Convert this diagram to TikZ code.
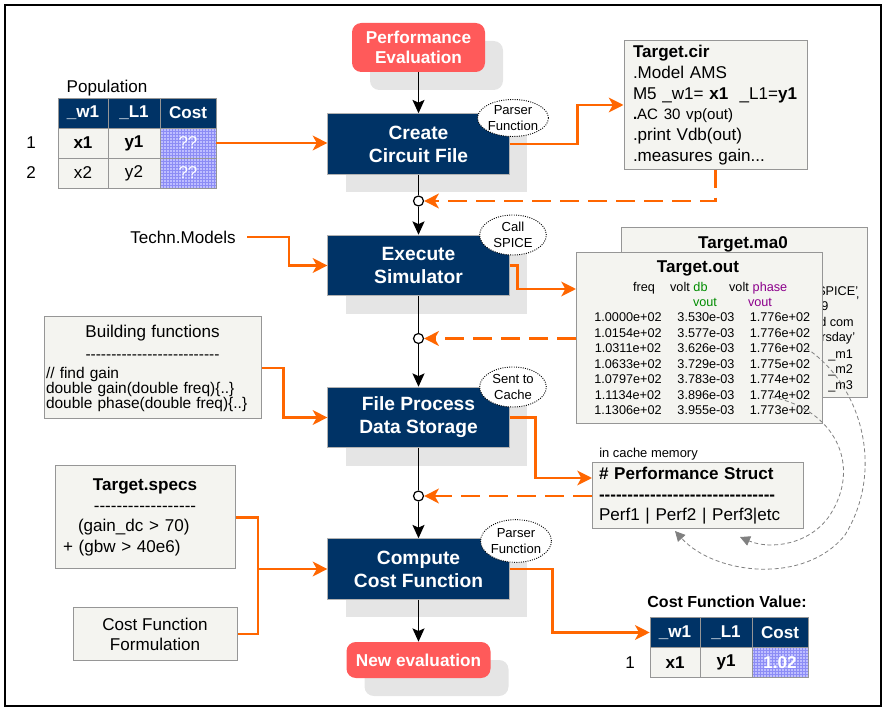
\documentclass[tikz,border=0pt]{standalone}
\usepackage{fontspec}
\setmainfont{Liberation Sans}
\usetikzlibrary{arrows.meta,shapes.geometric,shadows}

\definecolor{navy}{RGB}{0,51,102}
\definecolor{alarm}{RGB}{255,90,90}
\definecolor{flame}{RGB}{255,102,0}
\definecolor{notefill}{RGB}{244,244,240}
\definecolor{notedraw}{RGB}{150,150,150}
\definecolor{shade}{RGB}{229,229,229}
\definecolor{lav}{RGB}{190,190,255}
\definecolor{lavgrid}{RGB}{140,140,245}
\definecolor{dbgreen}{RGB}{0,140,0}
\definecolor{phpurple}{RGB}{140,0,140}

\newcommand\fsz[2]{\fontsize{#1}{#2}\selectfont}
\newcommand\dashrow[1]{\foreach \k in {1,...,#1}{-\kern0pt}}

\begin{document}
\begin{tikzpicture}[
			x=0.75pt, y=-0.75pt
			,boxshadow/.style={drop shadow={shadow xshift=13.5pt, shadow yshift=-13.5pt, fill=shade, opacity=1}}
			,mainbox/.style={rectangle, fill=navy, draw=gray!60, line width=0.6pt, text=white, font=\bfseries\fsz{14.4}{17.3}, align=center, minimum width=136pt, minimum height=45.5pt, boxshadow}
			,redbox/.style={rectangle, rounded corners=7pt, fill=alarm, text=white, font=\bfseries\fsz{12.9}{15.5}, align=center, boxshadow}
			,tag/.style={ellipse, draw, densely dotted, line width=0.7pt, fill=white, font=\fsz{9.8}{12}, align=center, inner sep=0pt}
			,note/.style={rectangle, draw=notedraw, fill=notefill, line width=0.75pt}
			,hd/.style={rectangle, draw=notedraw, fill=navy, text=white, font=\bfseries\fsz{12.8}{15}, minimum height=22.5pt, inner sep=0pt}
			,bd/.style={rectangle, draw=notedraw, fill=notefill, font=\fsz{12.8}{15}, minimum height=22.5pt, inner sep=0pt}
			,bdb/.style={bd, font=\bfseries\fsz{12.8}{15}}
			,cc/.style={rectangle, draw=notedraw, fill=lav, text=white, font=\fsz{12.8}{15}, minimum height=22.5pt, inner sep=0pt,
				path picture={\draw[lavgrid, line width=0.35pt, step=2.25pt] (path picture bounding box.south west) grid (path picture bounding box.north east);}}
			,junc/.style={circle, draw, fill=white, line width=0.9pt, inner sep=0pt, minimum size=7.5pt}
			,link/.style={line width=1.1pt}
			,arr/.style={link, -{Stealth[length=10pt, width=9pt, inset=2pt]}}
			,wire/.style={flame, line width=1.8pt}
			,feed/.style={wire, -{Stealth[length=11pt, width=11pt, inset=3pt]}}
			,backflow/.style={flame, line width=2pt, dash pattern=on 14pt off 7pt, -{Stealth[length=11pt, width=11pt, inset=3pt]}}
			,loopback/.style={gray, line width=0.6pt, dash pattern=on 3pt off 2pt, -{Triangle[length=7.5pt, width=7.5pt]}}
			,txt/.style={font=\fsz{12.8}{15}, inner sep=0pt}
			,small/.style={font=\fsz{9.5}{11.5}, inner sep=0pt, anchor=mid}
		]
	\useasboundingbox (0,0) rectangle (883,709);
	\draw[line width=1.1pt] (5,5) rectangle (881,706);

	% main flow
	\node [redbox, minimum width=99.75pt, minimum height=36.75pt] (pe) at (418.5,47.5) {Performance\\Evaluation};
	\node [mainbox] (create) at (418.5,144) {Create\\Circuit File};
	\node [mainbox] (exec) at (418.5,265.5) {Execute\\Simulator};
	\node [mainbox] (fproc) at (418.5,417.5) {File Process\\Data Storage};
	\node [mainbox] (cost) at (418.5,569) {Compute\\Cost Function};
	\node [redbox, minimum width=108pt, minimum height=27pt] (newev) at (418.5,660) {New evaluation};

	\node [junc] (j1) at (418.5,201) {};
	\node [junc] (j2) at (418.5,338.5) {};
	\node [junc] (j3) at (418.5,496) {};

	\node [tag, minimum width=49.5pt, minimum height=27.75pt] (parse1) at (513,118) {Parser\\Function};
	\node [tag, minimum width=50pt, minimum height=30pt] (spice) at (513,235) {Call\\SPICE};
	\node [tag, minimum width=50pt, minimum height=30pt] (cache) at (513,387) {Sent to\\Cache};
	\node [tag, minimum width=49.5pt, minimum height=32pt] (parse2) at (516,541) {Parser\\Function};

	% population table
	\node [txt] (poplab) at (107,88) {Population};
	\node [hd, minimum width=37.5pt] (pw) at (83,113) {\_w1};
	\node [hd, minimum width=39pt] (pl) at (134,113) {\_L1};
	\node [hd, minimum width=42pt] (pc) at (188,113) {Cost};
	\node [bdb, minimum width=37.5pt] (px1) at (83,143) {x1};
	\node [bdb, minimum width=39pt] (py1) at (134,143) {y1};
	\node [cc, minimum width=42pt] (pc1) at (188,143) {??};
	\node [bd, minimum width=37.5pt] (px2) at (83,173) {x2};
	\node [bd, minimum width=39pt] (py2) at (134,173) {y2};
	\node [cc, minimum width=42pt] (pc2) at (188,173) {??};
	\node [txt] (n1) at (31,143) {1};
	\node [txt] (n2) at (31,173) {2};

	% inputs on the left
	\node [txt] (tech) at (183,237) {Techn.Models};
	\node [note, text width=159.75pt, inner xsep=1.5pt, minimum height=76.5pt, align=left, font=\fsz{11.6}{11.25}] (bf) at (152.5,368)
		{\lineskiplimit=-5pt
		\makebox[\linewidth]{\fsz{12.8}{11.25}Building functions}\\[5.25pt]
		\makebox[\linewidth]{\dashrow{26}}\\[3pt]
		// find gain\\
		double gain(double freq)\{..\}\\
		double phase(double freq)\{..\}};
	\node [note, text width=123pt, inner xsep=6pt, minimum height=77.25pt, align=left, font=\fsz{12.8}{15.5}] (specs) at (145,517.5)
		{\makebox[\linewidth]{\bfseries Target.specs}\\
		\makebox[\linewidth]{\dashrow{18}}\\
		\hspace*{11.25pt}(gain\_dc > 70)\\
		+ (gbw > 40e6)};
	\node [note, minimum width=123pt, minimum height=39pt, align=center, font=\fsz{12.8}{15}] (cff) at (155,634) {Cost Function\\Formulation};

	% files on the right
	\node [note, text width=123.75pt, inner xsep=6.75pt, minimum height=96pt, align=left, font=\fsz{12.8}{15.5}] (tcir) at (715.5,105)
		{\textbf{Target.cir}\\
		.Model AMS\\
		M5 \_w1= \textbf{x1}\ \ \_L1=\textbf{y1}\\
		{\fsz{11.3}{15.5}\textbf{.}AC 30 vp(out)}\\
		.print Vdb(out)\\
		.measures gain...};

	\node [note, minimum width=184.5pt, minimum height=127.5pt] (tma) at (744,313) {};
	\node [txt, font=\bfseries\fsz{12.8}{15}] (tmatitle) at (743,244) {Target.ma0};
	\node [small, anchor=mid west] (ma1) at (817,292) {SPICE'};
	\node [small, anchor=mid west] (ma2) at (821,307) {9};
	\node [small, anchor=mid west] (ma2b) at (856,302) {'};
	\node [small, anchor=mid west] (ma3) at (819,323) {d com};
	\node [small, anchor=mid west] (ma4) at (814,338) {ursday'};
	\node [small, anchor=mid west] (ma5) at (828,355) {\_m1};
	\node [small, anchor=mid west] (ma6) at (828,370) {\_m2};
	\node [small, anchor=mid west] (ma7) at (828,386) {\_m3};

	\node [note, minimum width=184.5pt, minimum height=128.25pt] (tout) at (699,338.5) {};
	\node [txt, font=\bfseries\fsz{12.8}{15}] (touttitle) at (698,268) {Target.out};
	\node [small] (hfreq) at (644,288) {freq};
	\node [small] (hvolt1) at (680,288) {volt};
	\node [small, text=dbgreen] (hdb) at (700.5,288) {db};
	\node [small] (hvolt2) at (739,288) {volt};
	\node [small, text=phpurple] (hphase) at (770,288) {phase};
	\node [small, text=dbgreen] (hvout1) at (705,303) {vout};
	\node [small, text=phpurple] (hvout2) at (760,303) {vout};
	\foreach \f/\g/\p [count=\i from 0] in {1.0000e+02/3.530e-03/1.776e+02, 1.0154e+02/3.577e-03/1.776e+02,
			1.0311e+02/3.626e-03/1.776e+02, 1.0633e+02/3.729e-03/1.775e+02, 1.0797e+02/3.783e-03/1.774e+02,
			1.1134e+02/3.896e-03/1.774e+02, 1.1306e+02/3.955e-03/1.773e+02}{
		\node [small] (fr\i) at (628,318+15.5*\i) {\f};
		\node [small] (db\i) at (706,318+15.5*\i) {\g};
		\node [small] (ph\i) at (780,318+15.5*\i) {\p};
	}

	\node [txt, font=\fsz{9.7}{11}, anchor=mid west] (cachelab) at (599,454) {in cache memory};
	\node [note, text width=147.75pt, inner xsep=5.25pt, minimum height=49.5pt, align=left, font=\fsz{12.8}{15.4}] (pstruct) at (697.5,496)
		{\textbf{\# Performance Struct}\\
		\textbf{\dashrow{31}}\\
		Perf1 | Perf2 | Perf3|etc};

	% cost function value table
	\node [txt, font=\bfseries\fsz{12}{14}] (cfvlab) at (727,602) {Cost Function Value:};
	\node [hd, minimum width=37.5pt] (cw) at (675,632.5) {\_w1};
	\node [hd, minimum width=39pt] (cl) at (726,632.5) {\_L1};
	\node [hd, minimum width=42pt] (ccost) at (780,632.5) {Cost};
	\node [bdb, minimum width=37.5pt] (cx) at (675,662.5) {x1};
	\node [bdb, minimum width=39pt] (cy) at (726,662.5) {y1};
	\node [cc, minimum width=42pt, font=\bfseries\fsz{12.8}{15}] (cv) at (780,662.5) {1.02};
	\node [txt] (cn1) at (630,663) {1};

	% connectors
	\draw [arr] (pe) -- (create);
	\draw [link] (create) -- (j1);
	\draw [arr] (j1) -- (exec);
	\draw [link] (exec) -- (j2);
	\draw [arr] (j2) -- (fproc);
	\draw [link] (fproc) -- (j3);
	\draw [arr] (j3) -- (cost);
	\draw [arr] (cost) -- (newev);

	\coordinate (outin) at (576,289);
	\coordinate (structin) at (592,478);
	\coordinate (sj) at (258,569);
	\draw [feed] (pc1.east) -- (pc1.east -| create.west);
	\draw [feed] (create.east) -- ++(68,0) |- (tcir.west);
	\draw [backflow] (tcir.south) |- (j1);
	\draw [feed] ([xshift=8.5pt]tech.east) -- ++(42,0) |- (exec.west);
	\draw [feed] (exec.east) -- ++(8,0) |- (outin);
	\draw [backflow] (tout.west) -- (j2);
	\draw [feed] (bf.east) -- ++(22,0) |- (fproc.west);
	\draw [feed] (fproc.east) -- ++(26,0) |- (structin);
	\draw [backflow] (pstruct.west) -- (j3);
	\draw [wire] (specs.east) -| (sj) |- (cff.east);
	\draw [feed] (sj) -- (cost.west);
	\draw [feed] (cost.east) -- ++(43,0) |- (cw.west);

	\coordinate (m3src) at (806,348);
	\coordinate (m6src) at (772,397);
	\coordinate (perf1in) at (675,531);
	\coordinate (perf3in) at (740,537);
	\draw [loopback] (m3src) .. controls (862,385) and (885,470) .. (845,535) .. controls (805,585) and (715,575) .. (perf1in);
	\draw [loopback] (m6src) .. controls (835,410) and (862,465) .. (830,515) .. controls (810,545) and (770,550) .. (perf3in);
\end{tikzpicture}
\end{document}
